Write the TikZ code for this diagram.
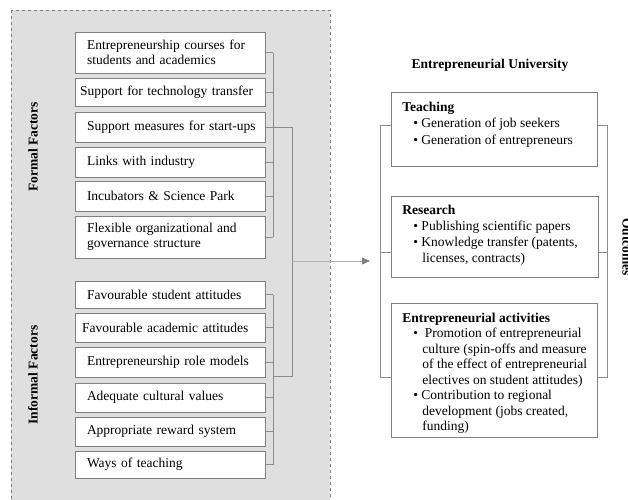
\documentclass[tikz,border=0pt]{standalone}
\usepackage{fontspec}
\setmainfont{Liberation Serif}
\usetikzlibrary{arrows.meta}
\newcommand{\boxfont}{\fontsize{13.5}{15.5}\selectfont}

\begin{document}
\begin{tikzpicture}[x=1pt,y=-1pt,
  factor/.style={draw=gray,fill=white,line width=0.8pt,text width=166pt,inner xsep=12pt,inner ysep=0pt,align=left,font=\boxfont},
  outcome/.style={draw=gray,fill=white,line width=0.8pt,anchor=north west,inner xsep=11pt,inner ysep=0pt,font=\boxfont},
  link/.style={draw=gray!90,line width=0.8pt},
  side/.style={font=\fontsize{13.5}{15}\selectfont\bfseries}]
\useasboundingbox (0,0) rectangle (628,499);

% grey panel with the factors
\draw[fill=gray!25,draw=gray,dashed,line width=0.7pt] (11,10) rectangle (330,520);
\node[side,rotate=90] (formal) at (33,147) {Formal Factors};
\node[side,rotate=90] (informal) at (33,375) {Informal Factors};

% formal factors
\node[factor,minimum height=41pt] (f1) at (170,52.5) {Entrepreneurship courses for\\students and academics};
\node[factor,minimum height=28pt] (f2) at (170,92) {\mbox{\hspace*{-7pt}Support for technology transfer}};
\node[factor,minimum height=30pt] (f3) at (170,127) {\mbox{Support measures for start-ups}};
\node[factor,minimum height=30pt] (f4) at (170,162) {Links with industry};
\node[factor,minimum height=30pt] (f5) at (170,196) {Incubators \& Science Park};
\node[factor,minimum height=42pt] (f6) at (170,237) {Flexible organizational and\\governance structure};

% informal factors
\node[factor,minimum height=27pt] (i1) at (170,294.5) {Favourable student attitudes};
\node[factor,minimum height=29pt] (i2) at (170,327.5) {\mbox{\hspace*{-5pt}Favourable academic attitudes}};
\node[factor,minimum height=30pt] (i3) at (170,362) {Entrepreneurship role models};
\node[factor,minimum height=29pt] (i4) at (170,397.5) {Adequate cultural values};
\node[factor,minimum height=29pt] (i5) at (170,431.5) {Appropriate reward system};
\node[factor,minimum height=27pt] (i6) at (170,464.5) {Ways of teaching};

% brackets
\coordinate (fb) at (273,0);
\coordinate (jn) at (292,0);
\coordinate (jy) at (0,376);
\coordinate (ar) at (370,261);
\foreach \n in {1,...,6} {
  \draw[link] (f\n.east) -- (f\n.east -| fb);
  \draw[link] (i\n.east) -- (i\n.east -| fb);
}
\draw[link] (f1.east -| fb) -- (f6.east -| fb);
\draw[link] (i1.east -| fb) -- (i6.east -| fb);
\draw[link] (f3.east -| fb) -- (f3.east -| jn) -- (jn |- jy) -- (fb |- jy);
\draw[draw=gray!60,line width=0.8pt,-{Triangle[length=8pt,width=7pt,fill=gray,color=gray]}] (jn |- ar) -- (ar);

% entrepreneurial university
\node[font=\boxfont\bfseries] (eu) at (490,65) {Entrepreneurial University};
\node[side,rotate=-90] (outc) at (627,247) {Outcomes};
\draw[link] (380,125) rectangle (607,377);
\draw[link] (380,252) -- (607,252);

\node[outcome] (teach) at (391,92) {\parbox[c][74pt][t]{184pt}{\fontsize{13.5}{16.7}\selectfont\vspace*{7pt}\begin{tabular}[t]{@{}l@{}}
\textbf{Teaching}\\
\hspace*{11pt}\textbullet\ Generation of job seekers\\
\hspace*{11pt}\textbullet\ Generation of entrepreneurs
\end{tabular}}};
\node[outcome] (res) at (391,196) {\parbox[c][81pt][t]{185pt}{\fontsize{13.5}{16}\selectfont\vspace*{6.5pt}\begin{tabular}[t]{@{}l@{}}
\textbf{Research}\\
\hspace*{11pt}\textbullet\ Publishing scientific papers\\
\hspace*{11pt}\textbullet\ Knowledge transfer (patents,\\
\hspace*{20pt}licenses, contracts)
\end{tabular}}};
\node[outcome] (act) at (391,303) {\parbox[c][134pt][t]{184pt}{\vspace*{8pt}\begin{tabular}[t]{@{}l@{}}
\textbf{Entrepreneurial activities}\\
\hspace*{11pt}\textbullet\ \ Promotion of entrepreneurial\\
\hspace*{20pt}culture (spin-offs and measure\\
\hspace*{20pt}of the effect of entrepreneurial\\
\hspace*{20pt}electives on student attitudes)\\
\hspace*{11pt}\textbullet\ Contribution to regional\\
\hspace*{20pt}development (jobs created,\\
\hspace*{20pt}funding)
\end{tabular}}};
\end{tikzpicture}
\end{document}
